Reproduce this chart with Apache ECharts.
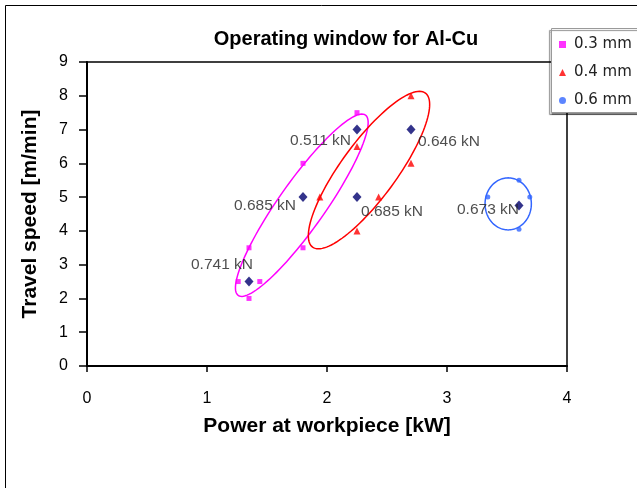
<!DOCTYPE html>
<html>
<head>
<meta charset="utf-8">
<script src="https://cdn.jsdelivr.net/npm/echarts@6/dist/echarts.min.js"></script>
<style>
  html, body { margin: 0; padding: 0; background: #fff; }
  #chart { width: 637px; height: 488px; }
</style>
</head>
<body>
<div id="chart"></div>
<script>
// Travel speed [m/min] against power at workpiece [kW], per sheet thickness
const seriesNames = ['0.3 mm', '0.4 mm', '0.6 mm'];
const pts03 = [[2.25, 7.5], [1.8, 6.0], [1.8, 3.5], [1.35, 3.5], [1.26, 2.5], [1.44, 2.5], [1.35, 2.0]];
const pts04 = [[2.7, 8.0], [2.25, 6.5], [2.7, 6.0], [1.94, 5.0], [2.43, 5.0], [2.25, 4.0]];
const pts06 = [[3.6, 5.5], [3.34, 5.0], [3.69, 5.0], [3.6, 4.05]];

// measured force at selected settings
const forcePts = [[2.25, 7.0], [2.7, 7.0], [1.8, 5.0], [2.25, 5.0], [1.35, 2.5], [3.6, 4.75]];
const forceKN = [0.511, 0.646, 0.685, 0.685, 0.741, 0.673];

// axis ticks
const xTicks = [0, 1, 2, 3, 4];
const yTicks = [0, 1, 2, 3, 4, 5, 6, 7, 8, 9];

// window outlines: centre x, centre y, major-axis tip x, tip y, minor/major ratio
const outline03 = [1.79, 4.76, 2.32, 7.43, 0.21];
const outline04 = [2.35, 5.80, 2.82, 8.08, 0.29];
const outline06 = [3.51, 4.80, 3.51, 5.57, 0.89];

// ---- styling ----
const FONT = '"Liberation Sans", Arial, sans-serif';
const LEGEND_FONT = '"DejaVu Sans", "Liberation Sans", sans-serif';
const colors = ['#ff00ff', '#ff0000', '#3366ff'];
const forceLabelPlace = [
  { align: 'right', offset: [-6, 11] },
  { align: 'left', offset: [7, 12] },
  { align: 'right', offset: [-7, 9] },
  { align: 'left', offset: [4, 15] },
  { align: 'right', offset: [4, -17] },
  { align: 'right', offset: [0, 4] }
];

function outlineRenderer(color) {
  return function (params, api) {
    const c = api.coord([api.value(0), api.value(1)]);
    const t = api.coord([api.value(2), api.value(3)]);
    const r = api.value(4);
    const ux = t[0] - c[0], uy = t[1] - c[1];
    const vx = -uy * r, vy = ux * r;
    const points = [];
    const n = 120;
    for (let i = 0; i < n; i++) {
      const a = (i / n) * Math.PI * 2;
      points.push([
        c[0] + ux * Math.cos(a) + vx * Math.sin(a),
        c[1] + uy * Math.cos(a) + vy * Math.sin(a)
      ]);
    }
    return {
      type: 'polygon',
      shape: { points: points },
      style: { fill: null, stroke: color, lineWidth: 1.5 }
    };
  };
}

function outlineSeries(name, values, color) {
  return {
    name: name,
    type: 'custom',
    renderItem: outlineRenderer(color),
    data: [values],
    encode: { x: [0, 2], y: [1, 3] },
    silent: true,
    z: 2
  };
}

const chart = echarts.init(document.getElementById('chart'), null, { renderer: 'canvas' });

chart.setOption({
  animation: false,
  backgroundColor: '#fff',
  textStyle: { fontFamily: FONT },
  title: {
    text: 'Operating window for Al-Cu',
    left: 341,
    top: 24,
    textAlign: 'center',
    textStyle: { fontFamily: FONT, fontSize: 20, fontWeight: 'bold', color: '#000' }
  },
  graphic: [
    {
      type: 'rect', z: 0, silent: true,
      shape: { x: 5.5, y: 5.5, width: 700, height: 600 },
      style: { fill: null, stroke: '#000', lineWidth: 1 }
    },
    {
      type: 'rect', z: 10, silent: true,
      shape: { x: 551.5, y: 28.5, width: 120, height: 84 },
      style: {
        fill: '#fff', stroke: '#9a9a9a', lineWidth: 1,
        shadowColor: 'rgba(0,0,0,0.45)', shadowOffsetX: -2, shadowOffsetY: 2, shadowBlur: 1
      }
    }
  ],
  legend: {
    data: seriesNames,
    orient: 'vertical',
    left: 559,
    top: 37,
    z: 11,
    itemWidth: 7,
    itemHeight: 7,
    itemGap: 13,
    padding: 0,
    textStyle: { fontFamily: LEGEND_FONT, fontSize: 15, lineHeight: 15, color: '#222', padding: [0, 0, 0, 3] }
  },
  grid: {
    left: 87, top: 62, width: 480, height: 304,
    show: true, borderColor: '#000', borderWidth: 1.5, backgroundColor: '#fff'
  },
  xAxis: {
    type: 'value',
    min: xTicks[0], max: xTicks[xTicks.length - 1], interval: 1,
    name: 'Power at workpiece [kW]',
    nameLocation: 'middle',
    nameGap: 50,
    nameTextStyle: { fontFamily: FONT, fontSize: 21, fontWeight: 'bold', color: '#000' },
    axisLine: { show: true, onZero: false, lineStyle: { color: '#000', width: 2 } },
    axisTick: { show: true, inside: false, length: 6, lineStyle: { color: '#000', width: 1.5 } },
    axisLabel: { margin: 25, fontFamily: FONT, fontSize: 16, color: '#000' },
    splitLine: { show: false }
  },
  yAxis: {
    type: 'value',
    min: yTicks[0], max: yTicks[yTicks.length - 1], interval: 1,
    name: 'Travel speed [m/min]',
    nameLocation: 'middle',
    nameGap: 46,
    nameTextStyle: { fontFamily: FONT, fontSize: 21, fontWeight: 'bold', color: '#000' },
    axisLine: { show: true, onZero: false, lineStyle: { color: '#000', width: 2 } },
    axisTick: { show: true, inside: false, length: 8, lineStyle: { color: '#000', width: 1.5 } },
    axisLabel: { margin: 19, fontFamily: FONT, fontSize: 16, color: '#000' },
    splitLine: { show: false }
  },
  series: [
    outlineSeries('outline 0.3', outline03, colors[0]),
    outlineSeries('outline 0.4', outline04, colors[1]),
    outlineSeries('outline 0.6', outline06, colors[2]),
    {
      name: seriesNames[0], type: 'scatter', symbol: 'rect', symbolSize: 5,
      itemStyle: { color: colors[0] }, data: pts03, z: 3
    },
    {
      name: seriesNames[1], type: 'scatter', symbol: 'triangle', symbolSize: 7,
      itemStyle: { color: colors[1] }, data: pts04, z: 3
    },
    {
      name: seriesNames[2], type: 'scatter', symbol: 'circle', symbolSize: 5,
      itemStyle: { color: colors[2] }, data: pts06, z: 3
    },
    {
      name: 'force', type: 'scatter', symbol: 'diamond', symbolSize: [9, 10],
      itemStyle: { color: '#00006e' }, z: 4,
      data: forcePts.map(function (p, i) {
        return {
          value: p,
          label: {
            show: true,
            position: 'inside',
            align: forceLabelPlace[i].align,
            verticalAlign: 'middle',
            offset: forceLabelPlace[i].offset,
            formatter: forceKN[i].toFixed(3) + ' kN',
            fontFamily: FONT, fontSize: 15.5, color: '#222'
          }
        };
      })
    }
  ]
});
</script>
</body>
</html>
